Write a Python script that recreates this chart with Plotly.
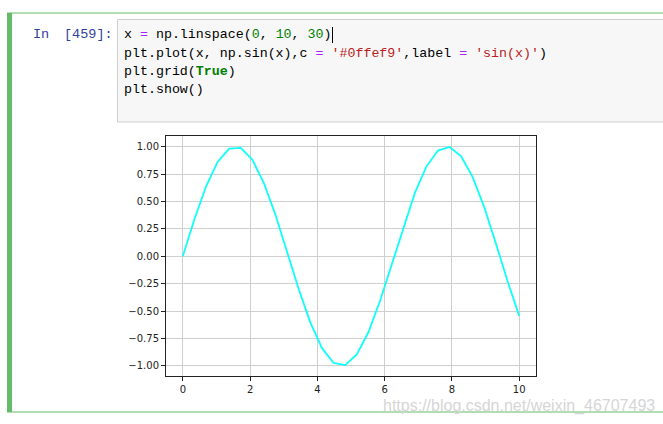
import plotly.graph_objects as go

x_vals = [0.0, 0.3448, 0.6897, 1.0345, 1.3793, 1.7241, 2.0690, 2.4138, 2.7586, 3.1034,
          3.4483, 3.7931, 4.1379, 4.4828, 4.8276, 5.1724, 5.5172, 5.8621, 6.2069, 6.5517,
          6.8966, 7.2414, 7.5862, 7.9310, 8.2759, 8.6207, 8.9655, 9.3103, 9.6552, 10.0]
y_vals = [0.0, 0.338, 0.636, 0.860, 0.982, 0.988, 0.879, 0.665, 0.374, 0.038,
          -0.302, -0.606, -0.839, -0.974, -0.993, -0.896, -0.694, -0.409, -0.076, 0.265,
          0.576, 0.818, 0.964, 0.997, 0.912, 0.720, 0.443, 0.114, -0.228, -0.544]
x_ticks = [0, 2, 4, 6, 8, 10]
x_ticktext = ["0", "2", "4", "6", "8", "10"]
y_ticks = [1.0, 0.75, 0.5, 0.25, 0.0, -0.25, -0.5, -0.75, -1.0]
y_ticktext = ["1.00", "0.75", "0.50", "0.25", "0.00", "\u22120.25", "\u22120.50", "\u22120.75", "\u22121.00"]

W, H = 663, 424
L, R, T, B = 166, 536, 136, 376


def fx(px):
    return (px - L) / (R - L)


def fy(py):
    return (B - py) / (B - T)


fig = go.Figure()
fig.add_trace(go.Scatter(x=x_vals, y=y_vals, mode="lines", name="sin(x)",
                         line=dict(color="#0ffef9", width=1.8)))

GREEN = "#66bb6a"
shapes = [
    # cell border (edit mode green)
    dict(type="line", xref="paper", yref="paper", x0=fx(7), x1=fx(663), y0=fy(13), y1=fy(13),
         line=dict(color=GREEN, width=1)),
    dict(type="line", xref="paper", yref="paper", x0=fx(7), x1=fx(663), y0=fy(412), y1=fy(412),
         line=dict(color=GREEN, width=1)),
    dict(type="rect", xref="paper", yref="paper", x0=fx(7), x1=fx(12), y0=fy(13), y1=fy(412),
         fillcolor=GREEN, line=dict(width=0)),
    # code input box
    dict(type="rect", xref="paper", yref="paper", x0=fx(117.5), x1=fx(670), y0=fy(19.5), y1=fy(122),
         fillcolor="#f7f7f7", line=dict(color="#cfcfcf", width=1)),
    # text cursor
    dict(type="line", xref="paper", yref="paper", x0=fx(332.5), x1=fx(332.5), y0=fy(27), y1=fy(43),
         line=dict(color="#000000", width=1)),
]

PURPLE = "#aa22ff"
CGREEN = "#008000"
RED = "#ba2121"


def sp(t, c):
    return f"<span style='color:{c}'>{t}</span>"


code_lines = [
    "x " + sp("=", PURPLE) + " np.linspace(" + sp("0", CGREEN) + ", " + sp("10", CGREEN) + ", " + sp("30", CGREEN) + ")",
    "plt.plot(x, np.sin(x),c " + sp("=", PURPLE) + " " + sp("'#0ffef9'", RED) + ",label " + sp("=", PURPLE) + " " + sp("'sin(x)'", RED) + ")",
    "plt.grid(" + sp("<b>True</b>", CGREEN) + ")",
    "plt.show()",
]
line_y = [35, 53.3, 71.6, 89.5]

annotations = []
for txt, yy in zip(code_lines, line_y):
    annotations.append(dict(text=txt, xref="paper", yref="paper", x=fx(122.5), y=fy(yy),
                            xanchor="left", yanchor="middle", showarrow=False, borderpad=0,
                            font=dict(family="Liberation Mono", size=13.3, color="#000000")))
annotations.append(dict(text="In", xref="paper", yref="paper", x=fx(32), y=fy(35),
                        xanchor="left", yanchor="middle", showarrow=False, borderpad=0,
                        font=dict(family="Liberation Mono", size=13.5, color="#303f9f")))
annotations.append(dict(text="[459]:", xref="paper", yref="paper", x=fx(63), y=fy(35),
                        xanchor="left", yanchor="middle", showarrow=False, borderpad=0,
                        font=dict(family="Liberation Mono", size=13.5, color="#303f9f")))
annotations.append(dict(text="https://blog.csdn.net/weixin_46707493", xref="paper", yref="paper",
                        x=fx(382), y=fy(406), xanchor="left", yanchor="middle", showarrow=False,
                        borderpad=0,
                        font=dict(family="Liberation Sans", size=16, color="#d6d6d6")))

fig.update_layout(
    width=W, height=H,
    margin=dict(l=L, r=W - R, t=T, b=H - B, pad=0),
    paper_bgcolor="white", plot_bgcolor="white",
    showlegend=False,
    shapes=shapes,
    annotations=annotations,
    font=dict(family="DejaVu Sans", size=10, color="#222222"),
)
fig.update_xaxes(range=[-0.5, 10.5], tickvals=x_ticks, ticktext=x_ticktext,
                 showgrid=True, gridcolor="#cfcfcf", gridwidth=1, zeroline=False,
                 showline=True, linecolor="#222222", linewidth=1, mirror=True,
                 ticks="outside", ticklen=4, tickwidth=1, tickcolor="#222222",
                 tickfont=dict(family="DejaVu Sans", size=10, color="#222222"))
fig.update_yaxes(range=[-1.093, 1.097], tickvals=y_ticks, ticktext=y_ticktext,
                 showgrid=True, gridcolor="#cfcfcf", gridwidth=1, zeroline=False,
                 showline=True, linecolor="#222222", linewidth=1, mirror=True,
                 ticks="outside", ticklen=4, tickwidth=1, tickcolor="#222222",
                 tickfont=dict(family="DejaVu Sans", size=10, color="#222222"))

fig.write_html("out.html", config={"displayModeBar": False},
               post_script="document.body.style.margin='0';document.body.style.overflow='hidden';")
